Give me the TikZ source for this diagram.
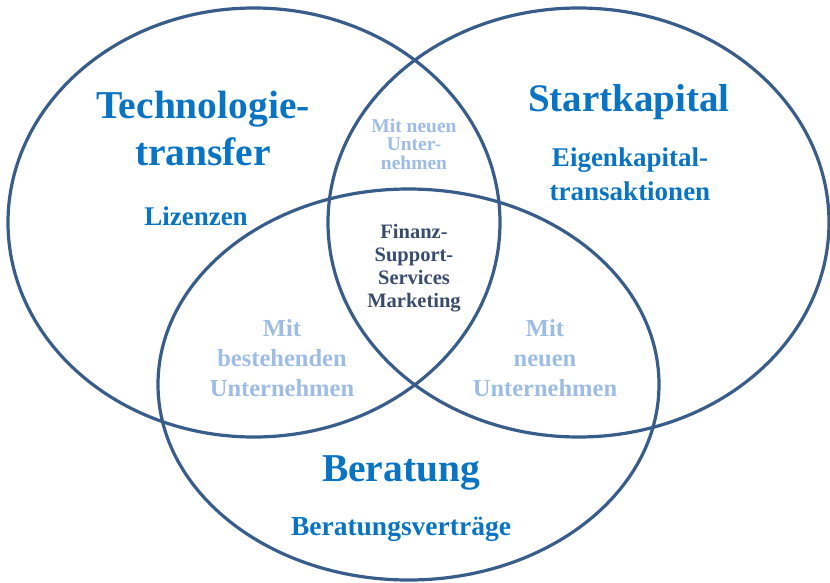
\documentclass[tikz,border=0pt]{standalone}
\usepackage{fontspec}
\setmainfont{Liberation Serif}
\usetikzlibrary{shapes.geometric}
\definecolor{ringc}{HTML}{385D8A}
\definecolor{titlec}{HTML}{0A74C4}
\definecolor{lightc}{HTML}{9DBCE6}
\definecolor{darkc}{HTML}{3A4C6E}
\tikzset{
  ring/.style={draw=ringc, line width=3.2pt, ellipse, inner sep=0pt},
  lbl/.style={anchor=base, align=center, inner sep=0pt, font=\bfseries},
}
\begin{document}
\begin{tikzpicture}[x=1pt,y=-1pt]
\useasboundingbox (0,0) rectangle (830,582);
\node[ring, minimum width=492pt, minimum height=429pt] (tech) at (254,222.5) {};
\node[ring, minimum width=501pt, minimum height=429pt] (start) at (578.5,222.5) {};
\node[ring, minimum width=501pt, minimum height=391pt] (berat) at (408.5,384.5) {};

\node[lbl, text=titlec, font=\bfseries\fontsize{39.5}{47}\selectfont] (t1) at (203,165) {Technologie-\\transfer};
\node[lbl, text=titlec, font=\bfseries\fontsize{27}{34}\selectfont] (t2) at (196,225) {Lizenzen};
\node[lbl, text=titlec, font=\bfseries\fontsize{39}{47}\selectfont] (s1) at (629,111) {Startkapital};
\node[lbl, text=titlec, font=\bfseries\fontsize{27}{34}\selectfont] (s2) at (630,200) {Eigenkapital-\\transaktionen};
\node[lbl, text=titlec, font=\bfseries\fontsize{39.5}{47}\selectfont] (b1) at (401,481) {Beratung};
\node[lbl, text=titlec, font=\bfseries\fontsize{27.5}{34}\selectfont] (b2) at (401,535) {Beratungsverträge};

\node[lbl, text=lightc, font=\bfseries\fontsize{19.5}{18.5}\selectfont] (ts) at (414,169) {Mit neuen\\Unter-\\nehmen};
\node[lbl, text=darkc, font=\bfseries\fontsize{20.5}{23}\selectfont] (c) at (414,307) {Finanz-\\Support-\\Services\\Marketing};
\node[lbl, text=lightc, font=\bfseries\fontsize{24.5}{30}\selectfont] (tb) at (282,396) {Mit\\bestehenden\\Unternehmen};
\node[lbl, text=lightc, font=\bfseries\fontsize{24.5}{30}\selectfont] (sb) at (545,396) {Mit\\neuen\\Unternehmen};
\end{tikzpicture}
\end{document}
